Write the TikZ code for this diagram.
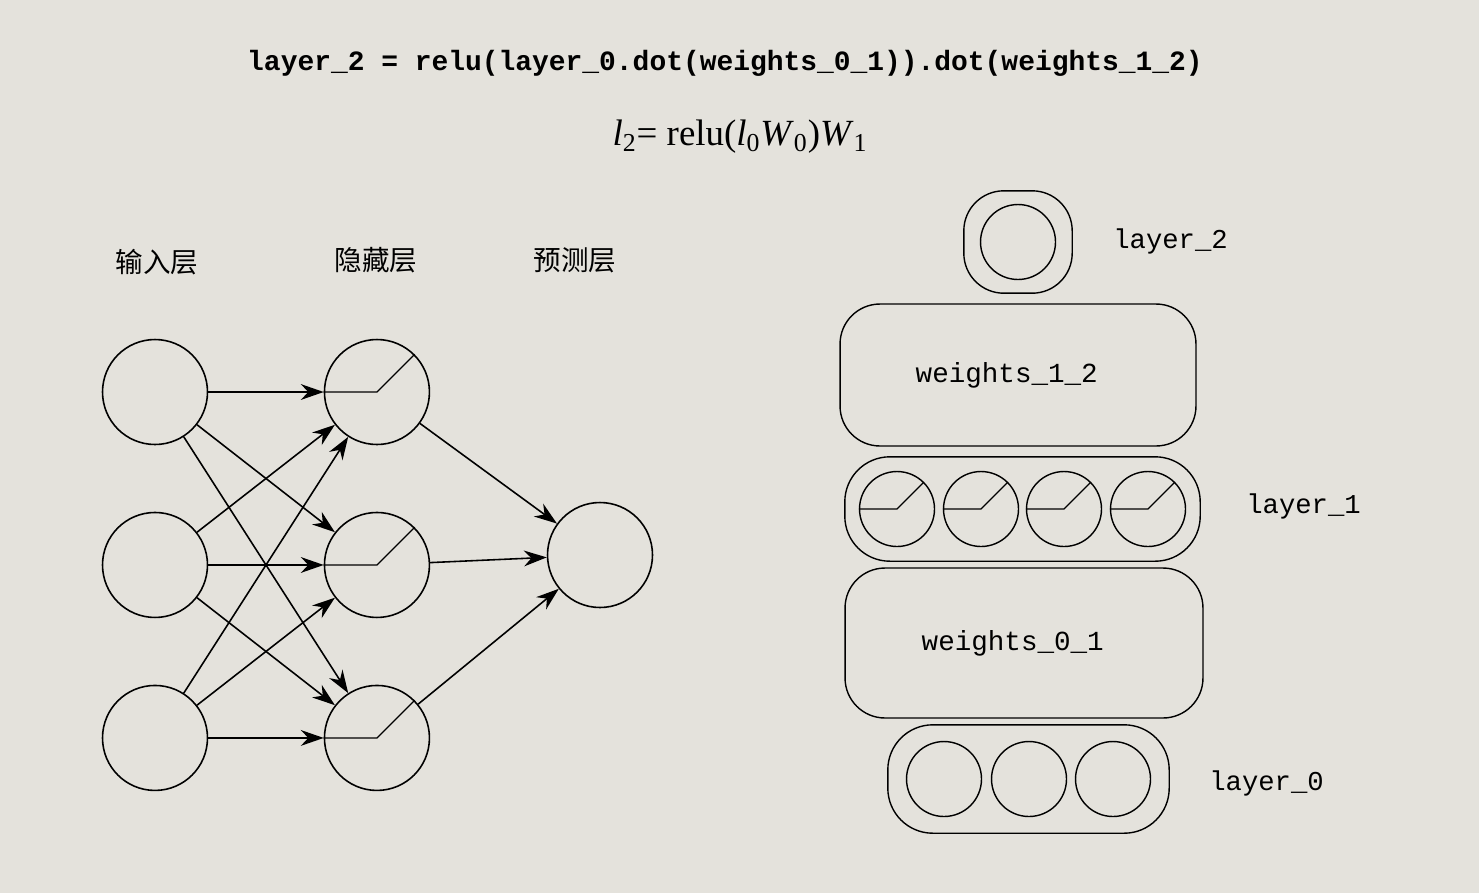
\documentclass[tikz,border=0pt]{standalone}
\usepackage{fontspec}
\setmonofont{Liberation Mono}
\newfontfamily\cjk{Noto Sans CJK SC}
\newfontfamily\mathserif{Liberation Serif}
\usetikzlibrary{arrows.meta, positioning, fit}
\definecolor{paper}{RGB}{228,226,220}
\tikzstyle{neuron} = [circle, draw=black, line width=0.9pt, minimum size=2.1cm, inner sep=0pt]
\tikzstyle{unit} = [circle, draw=black, line width=0.8pt, minimum size=1.5cm, inner sep=0pt]
\tikzstyle{group} = [rectangle, rounded corners=0.9cm, draw=black, line width=0.8pt, inner sep=0.3cm]
\tikzstyle{weights} = [rectangle, rounded corners=0.8cm, draw=black, line width=0.8pt, font=\ttfamily\fontsize{15.7}{18}\selectfont]
\tikzstyle{layername} = [anchor=west, inner sep=0pt, font=\ttfamily\fontsize{15.5}{18}\selectfont]
\tikzstyle{heading} = [font=\cjk\fontsize{15.7}{18}\selectfont]
\tikzstyle{arrow} = [line width=0.9pt, -{Stealth[length=13pt,width=9pt]}]
\newcommand\drawrelu[1]{\draw[line width=0.7pt] (#1.west) -- (#1.center) -- (#1.45);}

\begin{document}
\begin{tikzpicture}[x=0.02cm, y=-0.02cm, on grid]

    \fill[paper] (0,0) rectangle (1479,893);
    \useasboundingbox (0,0) rectangle (1479,893);

    % Code and formula
    \node (code) at (725,63) {\ttfamily\bfseries\fontsize{15.9}{18}\selectfont layer\_2 = relu(layer\_0.dot(weights\_0\_1)).dot(weights\_1\_2)};
    \node (formula) at (740,137) {\mathserif\fontsize{21}{24}\selectfont \textit{l}\textsubscript{2}= relu(\textit{l}\textsubscript{0}\textit{W}\textsubscript{0})\textit{W}\textsubscript{1}};

    % Left network
    \node (hin) [heading] at (157,262) {输入层};
    \node (hhid) [heading] at (376,260) {隐藏层};
    \node (hout) [heading] at (575,260) {预测层};

    \node (in1) [neuron] at (155,392) {};
    \node (in2) [neuron, below=3.46cm of in1] {};
    \node (in3) [neuron, below=3.46cm of in2] {};
    \node (h1) [neuron, right=4.44cm of in1] {};
    \node (h2) [neuron, right=4.44cm of in2] {};
    \node (h3) [neuron, right=4.44cm of in3] {};
    \node (out) [neuron] at (600,555) {};

    \foreach \i in {1,2,3}
        \foreach \j in {1,2,3}
            \draw [arrow] (in\i) -- (h\j);
    \foreach \j in {1,2,3} {
        \draw [arrow] (h\j) -- (out);
        \drawrelu{h\j}
    }

    % Right stack
    \node (o1) [unit] at (1018,242) {};
    \node (l2box) [group, rounded corners=0.8cm, inner xsep=0.32cm, inner ysep=0.26cm, fit=(o1)] {};
    \node (w12) [weights, minimum width=7.12cm, minimum height=2.84cm] at (1018,375) {weights\_1\_2\hspace*{0.45cm}};

    \foreach \i/\x in {1/897,2/981,3/1064,4/1148}
        \node (u\i) [unit] at (\x,509) {};
    \node (l1box) [group, inner xsep=0.28cm, inner ysep=0.28cm, fit=(u1)(u4)] {};
    \foreach \i in {1,...,4} {
        \drawrelu{u\i}
    }

    \node (w01) [weights, minimum width=7.16cm, minimum height=3cm] at (1024,643) {weights\_0\_1\hspace*{0.45cm}};

    \foreach \i/\x in {1/944,2/1029,3/1113}
        \node (v\i) [unit] at (\x,779) {};
    \node (l0box) [group, inner xsep=0.36cm, inner ysep=0.32cm, fit=(v1)(v3)] {};

    % Layer names
    \node (lab2) [layername] at (1113,241) {layer\_2};
    \node (lab1) [layername] at (1246,506) {layer\_1};
    \node (lab0) [layername] at (1209,783) {layer\_0};

\end{tikzpicture}
\end{document}
